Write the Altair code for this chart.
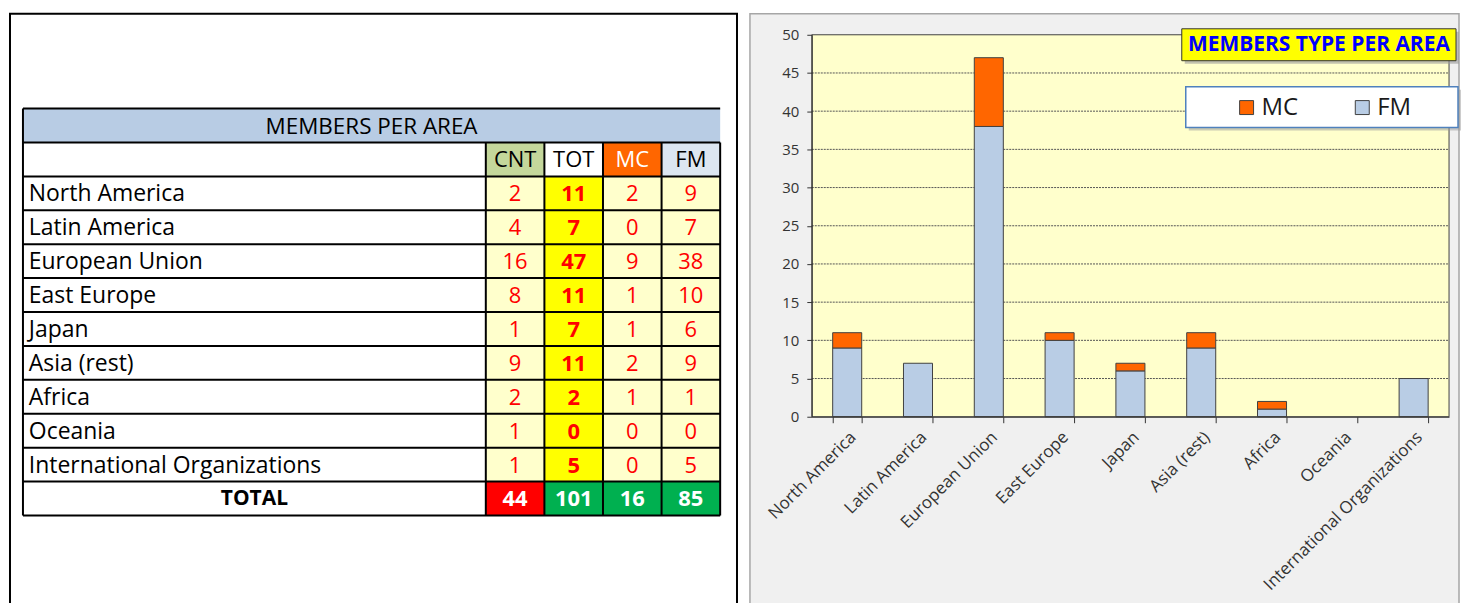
import altair as alt
import pandas as pd

# ---------------- data ----------------
areas = ["North America", "Latin America", "European Union", "East Europe", "Japan",
         "Asia (rest)", "Africa", "Oceania", "International Organizations"]
cnt = [2, 4, 16, 8, 1, 9, 2, 1, 1]
tot = [11, 7, 47, 11, 7, 11, 2, 0, 5]
mc = [2, 0, 9, 1, 1, 2, 1, 0, 0]
fm = [9, 7, 38, 10, 6, 9, 1, 0, 5]
col_heads = ["CNT", "TOT", "MC", "FM"]
totals = [44, 101, 16, 85]
table_title = "MEMBERS PER AREA"
total_label = "TOTAL"
chart_title = "MEMBERS TYPE PER AREA"
series = ["MC", "FM"]
y_ticks = [0, 5, 10, 15, 20, 25, 30, 35, 40, 45, 50]

# ---------------- style / layout ----------------
FONT = "Open Sans"
ORANGE = "#ff6600"
LIGHTBLUE = "#b9cde5"

# both panels share a plot origin; panel frames reach above it
W, H = 639, 383
FRAME_TOP = -21

# table layout in column units / row units
NAME_W = 7.9
col_edges = [0, NAME_W, NAME_W + 1, NAME_W + 2, NAME_W + 3, NAME_W + 4]
n_rows = 12
TW, TH = 729, H
UNIT_PX, ROW_PX = 58.75, 34
LEFT_OFF, TOP_OFF = 13, 74
x_dom = [-LEFT_OFF / UNIT_PX, (TW - LEFT_OFF) / UNIT_PX]
y_dom = [-TOP_OFF / ROW_PX, (TH - TOP_OFF) / ROW_PX]
xs = alt.Scale(domain=x_dom, nice=False, zero=False)
ys = alt.Scale(domain=y_dom, nice=False, zero=False, reverse=True)

head_fill = ["#c4d79b", "#ffffff", ORANGE, "#dce6f1"]
head_color = ["black", "black", "white", "black"]
data_fill = ["#ffffcc", "#ffff00", "#ffffcc", "#ffffcc"]
total_fill = ["#ff0000", "#00b050", "#00b050", "#00b050"]

cells = []
cells.append(dict(x=col_edges[0], x2=col_edges[-1], y=0, y2=1, fill="#b8cce4"))
for j in range(4):
    cells.append(dict(x=col_edges[j + 1], x2=col_edges[j + 2], y=1, y2=2, fill=head_fill[j]))
for i in range(len(areas)):
    for j in range(4):
        cells.append(dict(x=col_edges[j + 1], x2=col_edges[j + 2], y=i + 2, y2=i + 3, fill=data_fill[j]))
for j in range(4):
    cells.append(dict(x=col_edges[j + 1], x2=col_edges[j + 2], y=11, y2=12, fill=total_fill[j]))
cells_df = pd.DataFrame(cells)

lines = []
for r in range(n_rows + 1):
    lines.append(dict(x=col_edges[0], x2=col_edges[-1], y=r, y2=r))
lines.append(dict(x=col_edges[0], x2=col_edges[0], y=0, y2=n_rows))
for e in col_edges[1:]:
    lines.append(dict(x=e, x2=e, y=1, y2=n_rows))
lines_df = pd.DataFrame(lines)

centers = [(col_edges[j + 1] + col_edges[j + 2]) / 2 for j in range(4)]

head_df = pd.DataFrame(dict(x=centers, y=[1.5] * 4, t=col_heads, c=head_color))
names_df = pd.DataFrame(dict(x=[0.1] * len(areas), y=[i + 2.5 for i in range(len(areas))], t=areas))
num_rows = []
for i in range(len(areas)):
    for j, vals in ((0, cnt), (2, mc), (3, fm)):
        num_rows.append(dict(x=centers[j], y=i + 2.5, t=str(vals[i])))
num_df = pd.DataFrame(num_rows)
tot_df = pd.DataFrame(dict(x=[centers[1]] * len(areas), y=[i + 2.5 for i in range(len(areas))],
                           t=[str(v) for v in tot]))
totals_df = pd.DataFrame(dict(x=centers, y=[11.5] * 4, t=[str(v) for v in totals]))
one = pd.DataFrame({"k": [0]})

def tx(df, **kw):
    return alt.Chart(df).mark_text(font=FONT, baseline="middle", **kw).encode(
        x=alt.X("x:Q", scale=xs, axis=None), y=alt.Y("y:Q", scale=ys, axis=None), text="t:N")

t_frame = alt.Chart(one).mark_rect(fill="white", stroke="black", strokeWidth=2).encode(
    x=alt.value(0), x2=alt.value(TW), y=alt.value(FRAME_TOP), y2=alt.value(590))
t_cells = alt.Chart(cells_df).mark_rect().encode(
    x=alt.X("x:Q", scale=xs, axis=None), x2="x2:Q",
    y=alt.Y("y:Q", scale=ys, axis=None), y2="y2:Q",
    fill=alt.Fill("fill:N", scale=None))
t_lines = alt.Chart(lines_df).mark_rule(color="black", strokeWidth=2).encode(
    x=alt.X("x:Q", scale=xs, axis=None), x2="x2:Q",
    y=alt.Y("y:Q", scale=ys, axis=None), y2="y2:Q")
t_title = alt.Chart(pd.DataFrame(dict(x=[col_edges[-1] / 2], y=[0.5], t=[table_title]))).mark_text(
    font=FONT, fontSize=22.5, baseline="middle", color="black", dy=1).encode(
    x=alt.X("x:Q", scale=xs, axis=None), y=alt.Y("y:Q", scale=ys, axis=None), text="t:N")
t_head = alt.Chart(head_df).mark_text(font=FONT, fontSize=22, baseline="middle", dy=1).encode(
    x=alt.X("x:Q", scale=xs, axis=None), y=alt.Y("y:Q", scale=ys, axis=None), text="t:N",
    fill=alt.Fill("c:N", scale=None))
t_names = tx(names_df, fontSize=23, align="left", color="black", dy=1)
t_nums = tx(num_df, fontSize=22, align="center", color="#ff0000", dy=1)
t_tot = tx(tot_df, fontSize=22, align="center", color="#ff0000", fontWeight="bold", dy=1)
t_total_lbl = alt.Chart(pd.DataFrame(dict(x=[NAME_W / 2], y=[11.5], t=[total_label]))).mark_text(
    font=FONT, fontSize=21, fontWeight="bold", baseline="middle", color="black", dy=1).encode(
    x=alt.X("x:Q", scale=xs, axis=None), y=alt.Y("y:Q", scale=ys, axis=None), text="t:N")
t_totals = tx(totals_df, fontSize=22, align="center", color="white", fontWeight="bold", dy=1)

table = alt.layer(t_frame, t_cells, t_lines, t_title, t_head, t_names, t_nums, t_tot,
                  t_total_lbl, t_totals).properties(
    width=TW, height=TH,
    view=alt.ViewBackground(fill="transparent", stroke="transparent"))

# ---------------- bar chart ----------------
bars_rows = []
for a, m, f in zip(areas, mc, fm):
    bars_rows.append(dict(area=a, type="FM", value=f, ord=0))
    bars_rows.append(dict(area=a, type="MC", value=m, ord=1))
bars_df = pd.DataFrame(bars_rows)
grid_df = pd.DataFrame({"value": y_ticks[1:-1]})

y_scale = alt.Scale(domain=[0, 50], nice=False)
y_axis = alt.Axis(values=y_ticks, grid=False, title=None, tickSize=5, labelPadding=8,
                  labelFont=FONT, labelFontSize=15, labelColor="#333333",
                  tickColor="#333333", domainColor="#333333", zindex=1)

bg_gray = alt.Chart(one).mark_rect(fill="#f0f0f0", stroke="#a6a6a6", strokeWidth=1.5).encode(
    x=alt.value(-62), x2=alt.value(W + 10), y=alt.value(FRAME_TOP), y2=alt.value(590))
bg_yellow = alt.Chart(one).mark_rect(fill="#ffffcc").encode(
    x=alt.value(0), x2=alt.value(W), y=alt.value(0), y2=alt.value(H))
grid = alt.Chart(grid_df).mark_rule(color="#555555", strokeWidth=1, strokeDash=[2, 1]).encode(
    y=alt.Y("value:Q", scale=y_scale, axis=y_axis), x=alt.value(0), x2=alt.value(W))
bars = alt.Chart(bars_df).transform_filter("datum.value > 0").mark_bar(
    stroke="#404040", strokeWidth=1).encode(
    x=alt.X("area:N", sort=areas, title=None,
            scale=alt.Scale(domain=areas, paddingInner=0.59, paddingOuter=0.295),
            axis=alt.Axis(labelAngle=-45, tickBand="extent", tickSize=6, labelFont=FONT,
                          labelFontSize=17, labelColor="#333333", tickColor="#333333",
                          domainColor="#333333", labelPadding=6, zindex=1, labelLimit=400)),
    y=alt.Y("value:Q", stack="zero", scale=y_scale, axis=y_axis),
    color=alt.Color("type:N", scale=alt.Scale(domain=series, range=[ORANGE, LIGHTBLUE]),
                    legend=alt.Legend(orient="none", legendX=424, legendY=61, direction="horizontal",
                                      title=None, symbolType="square", symbolSize=196,
                                      symbolStrokeColor="#404040", symbolStrokeWidth=1,
                                      symbolOpacity=1, labelFont=FONT, labelFontSize=24,
                                      labelColor="#1a1a1a", labelOffset=3, columnPadding=52,
                                      padding=0)),
    order=alt.Order("ord:Q", sort="ascending"))
frame = alt.Chart(one).mark_rect(fill="transparent", stroke="#404040", strokeWidth=1).encode(
    x=alt.value(0), x2=alt.value(W), y=alt.value(0), y2=alt.value(H))
title_shadow = alt.Chart(one).mark_rect(fill="#9a9a9a", opacity=0.6).encode(
    x=alt.value(374), x2=alt.value(649), y=alt.value(-3), y2=alt.value(29))
title_box = alt.Chart(one).mark_rect(fill="#ffff00", stroke="#333333", strokeWidth=1).encode(
    x=alt.value(371), x2=alt.value(646), y=alt.value(-6), y2=alt.value(26))
title_txt = alt.Chart(pd.DataFrame({"t": [chart_title]})).mark_text(
    font=FONT, fontSize=21, fontWeight="bold", color="#0000ff", align="center", baseline="middle").encode(
    x=alt.value(508.5), y=alt.value(10.5), text="t:N")
leg_shadow = alt.Chart(one).mark_rect(fill="#9a9a9a", opacity=0.5).encode(
    x=alt.value(378), x2=alt.value(651), y=alt.value(55), y2=alt.value(96))
leg_box = alt.Chart(one).mark_rect(fill="white", stroke="#4f81bd", strokeWidth=1.5).encode(
    x=alt.value(375), x2=alt.value(648), y=alt.value(52), y2=alt.value(93))

chart_r = alt.layer(bg_gray, bg_yellow, grid, bars, frame, title_shadow, title_box, title_txt,
                    leg_shadow, leg_box).properties(
    width=W, height=H,
    view=alt.ViewBackground(fill="transparent", stroke="transparent"))

chart = alt.hconcat(table, chart_r, spacing=9).resolve_legend(color="independent").properties(
    padding={"left": 0, "top": 3, "right": 0, "bottom": 0},
    background="white")

chart.save("out.html", embed_options={"renderer": "svg", "actions": False})
